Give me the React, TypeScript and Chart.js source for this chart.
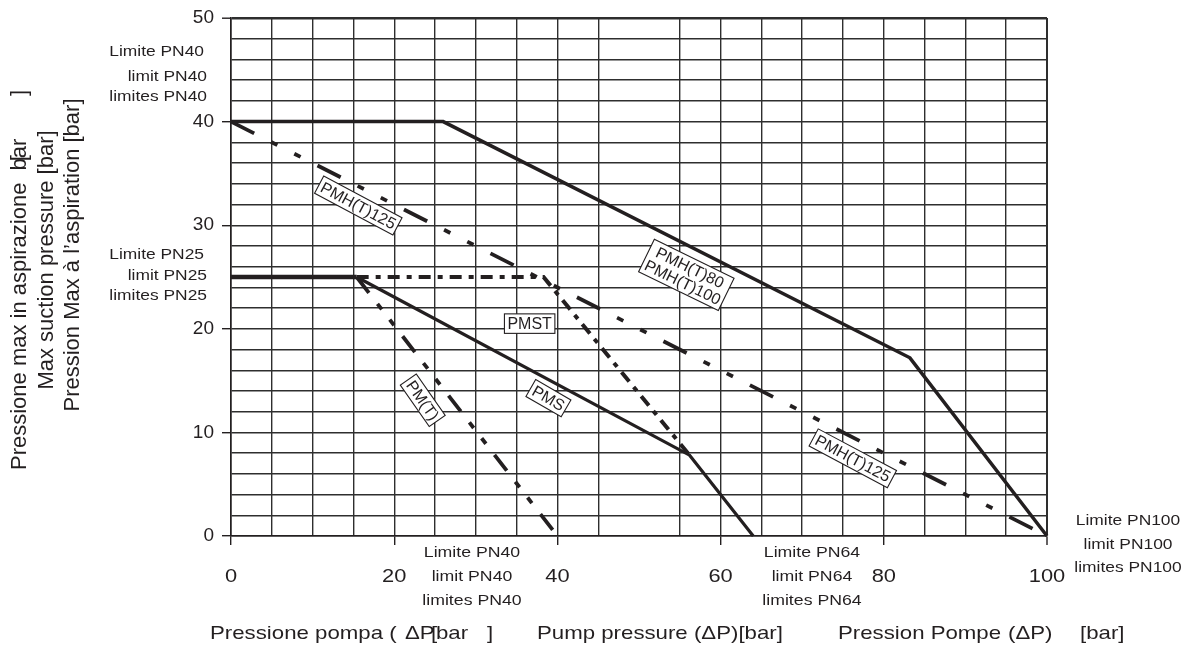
import React, { useEffect, useRef } from 'react';
import { Chart, registerables } from 'chart.js';

Chart.register(...registerables);

// ---------- data ----------
const pmh80X = [0, 26, 83.2, 100];
const pmh80Y = [40, 40, 17.2, 0];
const pmh125X = [0, 100];
const pmh125Y = [40, 0];
const pn25X = [0, 15.4];
const pn25Y = [25, 25];
const pmstX = [15.4, 38.3, 56.2];
const pmstY = [25, 25, 7.8];
const pmsX = [15.4, 56.2, 64];
const pmsY = [25, 7.8, 0];
const pmtX = [15.4, 40];
const pmtY = [25, 0];

const xTickLabels = [0, 20, 40, 60, 80, 100];
const yTickLabels = [0, 10, 20, 30, 40, 50];

const curveLabelTexts = [['PMH(T)125'], ['PMH(T)125'], ['PMH(T)80', 'PMH(T)100'], ['PMST'], ['PMS'], ['PM(T)']];
const curveLabelX = [15.6, 76.2, 55.8, 36.6, 38.9, 23.5];
const curveLabelY = [31.9, 7.5, 25.2, 20.5, 13.3, 13.1];
const curveLabelAngle = [28, 28, 26, 0, 30, 55];

const leftLimitTexts = ['Limite PN40', 'limit PN40', 'limites PN40', 'Limite PN25', 'limit PN25', 'limites PN25'];
const bottomLimitTexts = ['Limite PN40', 'limit PN40', 'limites PN40', 'Limite PN64', 'limit PN64', 'limites PN64'];
const rightLimitTexts = ['Limite PN100', 'limit PN100', 'limites PN100'];

// ---------- styles ----------
const INK = '#231f20';
const GRID = '#2e2e2e';
const FONT = '"Liberation Sans", Arial, Helvetica, sans-serif';
const NONE = 'rgba(0,0,0,0)';

const pts = (xs: number[], ys: number[]) => xs.map((x, i) => ({ x, y: ys[i] }));

function textStretched(ctx: CanvasRenderingContext2D, text: string, x: number, y: number, size: number, sx: number, align: 'left' | 'center' | 'right') {
  ctx.save();
  ctx.font = `${size}px ${FONT}`;
  const w = ctx.measureText(text).width * sx;
  const left = align === 'center' ? x - w / 2 : align === 'right' ? x - w : x;
  ctx.translate(left, y);
  ctx.scale(sx, 1);
  ctx.textAlign = 'left';
  ctx.textBaseline = 'middle';
  ctx.fillStyle = INK;
  ctx.fillText(text, 0, 0);
  ctx.restore();
}

function boxLabel(ctx: CanvasRenderingContext2D, lines: string[], cx: number, cy: number, angle: number) {
  const size = 16;
  ctx.save();
  ctx.translate(cx, cy);
  ctx.rotate((angle * Math.PI) / 180);
  ctx.font = `${size}px ${FONT}`;
  const tw = Math.max(...lines.map((l) => ctx.measureText(l).width));
  const lh = 16.5;
  const w = tw + 6;
  const h = lines.length * lh + 3;
  ctx.fillStyle = '#ffffff';
  ctx.fillRect(-w / 2, -h / 2, w, h);
  ctx.strokeStyle = INK;
  ctx.lineWidth = 1.1;
  ctx.strokeRect(-w / 2, -h / 2, w, h);
  ctx.fillStyle = INK;
  ctx.textAlign = 'center';
  ctx.textBaseline = 'middle';
  lines.forEach((l, i) => ctx.fillText(l, 0, -h / 2 + 1.5 + lh * (i + 0.5) + 1));
  ctx.restore();
}

function vText(ctx: CanvasRenderingContext2D, text: string, x: number, y: number, size: number, align: 'left' | 'center') {
  ctx.save();
  ctx.translate(x, y);
  ctx.rotate(-Math.PI / 2);
  ctx.font = `${size}px ${FONT}`;
  ctx.fillStyle = INK;
  ctx.textAlign = align;
  ctx.textBaseline = 'middle';
  ctx.fillText(text, 0, 0);
  ctx.restore();
}

const annotationsPlugin = {
  id: 'annotations',
  afterDatasetsDraw(chart: any) {
    const ctx: CanvasRenderingContext2D = chart.ctx;
    const xs = chart.scales.x;
    const ys = chart.scales.y;
    curveLabelTexts.forEach((lines, i) => {
      boxLabel(ctx, lines, xs.getPixelForValue(curveLabelX[i]), ys.getPixelForValue(curveLabelY[i]), curveLabelAngle[i]);
    });
  },
  afterDraw(chart: any) {
    const ctx: CanvasRenderingContext2D = chart.ctx;
    const xs = chart.scales.x;
    const ys = chart.scales.y;
    const area = chart.chartArea;
    // tick labels
    yTickLabels.forEach((v) => {
      textStretched(ctx, String(v), area.left - 17, ys.getPixelForValue(v), 19, 1, 'right');
    });
    xTickLabels.forEach((v) => {
      textStretched(ctx, String(v), xs.getPixelForValue(v), area.bottom + 41, 19, 1.15, 'center');
    });
    // limit labels
    const leftY = [52, 77, 97, 255, 276, 296];
    leftLimitTexts.forEach((t, i) => {
      textStretched(ctx, t, 206 + (i % 3 === 0 ? -2 : 1), leftY[i], 15, 1.16, 'right');
    });
    const bottomX = [472, 472, 472, 812, 812, 812];
    const bottomY = [553, 577, 601, 553, 577, 601];
    bottomLimitTexts.forEach((t, i) => {
      textStretched(ctx, t, bottomX[i], bottomY[i], 15, 1.18, 'center');
    });
    const rightY = [521, 545, 568];
    rightLimitTexts.forEach((t, i) => {
      textStretched(ctx, t, 1128, rightY[i], 15, 1.16, 'center');
    });
    // x-axis title
    const ty = 634;
    const tsize = 19;
    const tsx = 1.17;
    textStretched(ctx, 'Pressione pompa (', 210, ty, tsize, tsx, 'left');
    textStretched(ctx, 'ΔP', 405, ty, tsize, tsx, 'left');
    textStretched(ctx, '[', 431, ty, tsize, tsx, 'left');
    textStretched(ctx, 'bar', 436, ty, tsize, tsx, 'left');
    textStretched(ctx, ']', 487, ty, tsize, tsx, 'left');
    textStretched(ctx, 'Pump pressure (ΔP)[bar]', 537, ty, tsize, tsx, 'left');
    textStretched(ctx, 'Pression Pompe', 838, ty, tsize, tsx, 'left');
    textStretched(ctx, '(ΔP)', 1008, ty, tsize, tsx, 'left');
    textStretched(ctx, '[bar]', 1080, ty, tsize, tsx, 'left');
    // y-axis title (three rotated lines)
    const ySize = 22;
    vText(ctx, 'Pressione max in aspirazione  bar', 20, 470, ySize, 'left');
    ctx.save();
    ctx.font = `${ySize}px ${FONT}`;
    const pre = ctx.measureText('Pressione max in aspirazione  b').width;
    ctx.restore();
    vText(ctx, '[', 20, 470 - pre + 3, ySize, 'left');
    vText(ctx, ']', 20, 96, ySize, 'left');
    vText(ctx, 'Max suction pressure [bar]', 47, 260, ySize, 'center');
    vText(ctx, 'Pression Max à l’aspiration [bar]', 73, 255, ySize, 'center');
  },
};

export default function App() {
  const canvasRef = useRef<HTMLCanvasElement | null>(null);

  useEffect(() => {
    if (!canvasRef.current) return;
    const base = {
      showLine: true,
      pointRadius: 0,
      pointHoverRadius: 0,
      tension: 0,
      fill: false,
      clip: false as any,
      borderColor: INK,
      borderCapStyle: 'butt' as const,
      borderJoinStyle: 'miter' as const,
    };
    const chart = new Chart(canvasRef.current, {
      type: 'scatter',
      data: {
        datasets: [
          { ...base, label: 'PMH(T)80 / PMH(T)100', data: pts(pmh80X, pmh80Y), borderWidth: 3.5 },
          { ...base, label: 'PMH(T)125', data: pts(pmh125X, pmh125Y), borderWidth: 3.8, borderDash: [26, 19, 7, 19, 7, 19] },
          { ...base, label: 'PN25', data: pts(pn25X, pn25Y), borderWidth: 4.5 },
          { ...base, label: 'PMST', data: pts(pmstX, pmstY), borderWidth: 4, borderDash: [12, 7, 5, 7] },
          { ...base, label: 'PMS', data: pts(pmsX, pmsY), borderWidth: 3.2 },
          { ...base, label: 'PM(T)', data: pts(pmtX, pmtY), borderWidth: 3.8, borderDash: [20, 14, 7, 13, 7, 14] },
        ],
      },
      options: {
        responsive: false,
        animation: false,
        events: [],
        layout: { padding: { left: 0, top: 18, right: 150, bottom: 0 } },
        plugins: { legend: { display: false }, tooltip: { enabled: false }, title: { display: false } },
        scales: {
          x: {
            type: 'linear',
            min: 0,
            max: 100,
            afterFit: (s: any) => { s.height = 114; },
            ticks: { stepSize: 5, autoSkip: false, display: false },
            grid: {
              color: (c: any) => (c.tick && c.tick.value === 50 ? NONE : GRID),
              lineWidth: (c: any) => (c.tick && c.tick.value === 100 ? 2 : 1.4),
              drawTicks: true,
              tickLength: 9,
              tickWidth: 1.4,
              tickColor: (c: any) => (c.tick && c.tick.value % 20 === 0 ? INK : NONE),
            },
            border: { display: true, color: INK, width: 1.6 },
          },
          y: {
            type: 'linear',
            min: 0,
            max: 50,
            afterFit: (s: any) => { s.width = 231; },
            ticks: { stepSize: 2, autoSkip: false, display: false },
            grid: {
              color: GRID,
              lineWidth: (c: any) => (c.tick && c.tick.value === 50 ? 2.4 : 1.4),
              drawTicks: true,
              tickLength: 9,
              tickWidth: 1.4,
              tickColor: (c: any) => (c.tick && c.tick.value % 10 === 0 ? INK : NONE),
            },
            border: { display: true, color: INK, width: 1.6 },
          },
        },
      },
      plugins: [annotationsPlugin],
    });
    return () => chart.destroy();
  }, []);

  return (
    <div style={{ position: 'absolute', left: 0, top: 0, width: 1197, height: 650, background: '#fff' }}>
      <canvas ref={canvasRef} width={1197} height={650} style={{ display: 'block' }} />
    </div>
  );
}
